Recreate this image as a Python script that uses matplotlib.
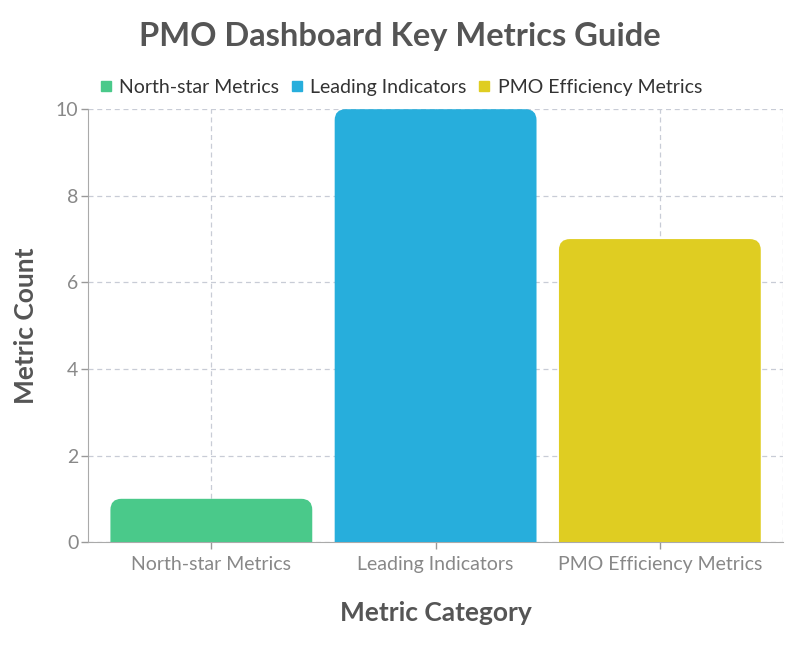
import matplotlib.pyplot as plt
from matplotlib.patches import PathPatch
from matplotlib.path import Path
from matplotlib.lines import Line2D

categories = ['North-star Metrics', 'Leading Indicators', 'PMO Efficiency Metrics']
counts = [1, 10, 7]
colors = ['#4AC98A', '#27AEDC', '#DFCD22']

plt.rcParams['font.family'] = ['Lato', 'DejaVu Sans']


def top_rounded_bar(x0, w, h, rx, ry):
    # bar with rounded top corners only, in data units
    verts = [(x0, 0), (x0, h - ry), (x0, h), (x0 + rx, h),
             (x0 + w - rx, h), (x0 + w, h), (x0 + w, h - ry),
             (x0 + w, 0), (x0, 0)]
    codes = [Path.MOVETO, Path.LINETO, Path.CURVE3, Path.CURVE3,
             Path.LINETO, Path.CURVE3, Path.CURVE3,
             Path.LINETO, Path.CLOSEPOLY]
    return Path(verts, codes)


fig = plt.figure(figsize=(8, 6.5), dpi=100)
ax = fig.add_axes([0.11, 0.166, 0.869, 0.666])

ax.set_xlim(-0.55, 2.55)
ax.set_ylim(0, 10)

bar_w = 0.9
# ~11 px corner radius converted to data units
rx = 11 * 3.1 / 695
ry = 11 * 10 / 433
for i, (val, col) in enumerate(zip(counts, colors)):
    ax.add_patch(PathPatch(top_rounded_bar(i - bar_w / 2, bar_w, val, rx, ry),
                           facecolor=col, edgecolor='none', zorder=3))

ax.set_xticks(range(len(categories)))
ax.set_xticklabels(categories)
ax.set_yticks([0, 2, 4, 6, 8, 10])
ax.tick_params(axis='both', colors='#999999', labelcolor='#888888', labelsize=14, length=5, width=1)
ax.tick_params(axis='x', pad=5)
ax.tick_params(axis='y', pad=2)

ax.grid(True, linestyle=(0, (4, 3)), color='#C8CCD6', linewidth=0.9, zorder=0)
ax.axvline(2.55, linestyle=(0, (4, 3)), color='#C8CCD6', linewidth=0.9, zorder=0)
for s in ['top', 'right']:
    ax.spines[s].set_visible(False)
for s in ['left', 'bottom']:
    ax.spines[s].set_color('#AAAAAA')

ax.set_xlabel('Metric Category', fontsize=19, fontweight='bold', color='#555555', labelpad=20)
ax.set_ylabel('Metric Count', fontsize=19, fontweight='bold', color='#555555', labelpad=13)

fig.suptitle('PMO Dashboard Key Metrics Guide', fontsize=23.5, fontweight='bold', color='#555555', y=0.966)

handles = [Line2D([], [], marker='s', linestyle='none', markersize=6.5, color=c) for c in colors]
fig.legend(handles, categories, loc='center', bbox_to_anchor=(0.5, 0.866), ncol=3, frameon=False,
           fontsize=14, handlelength=0.8, handletextpad=0.3, columnspacing=0.5, labelcolor='#333333')

fig.savefig('out.png')
